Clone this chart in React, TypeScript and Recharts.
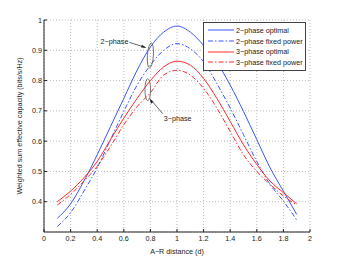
import React from "react";
import {
  CartesianGrid,
  Line,
  LineChart,
  ReferenceDot,
  XAxis,
  YAxis,
} from "recharts";

const distances = [0.1, 0.2, 0.3, 0.4, 0.5, 0.6, 0.7, 0.8, 0.9, 1.0, 1.1, 1.2, 1.3, 1.4, 1.5, 1.6, 1.7, 1.8, 1.9];

const twoPhaseOptimal = [0.345, 0.393, 0.468, 0.555, 0.648, 0.741, 0.834, 0.911, 0.96, 0.98, 0.96, 0.916, 0.86, 0.785, 0.698, 0.605, 0.512, 0.435, 0.358];
const twoPhaseFixed = [0.318, 0.364, 0.435, 0.512, 0.605, 0.698, 0.785, 0.851, 0.9, 0.922, 0.905, 0.862, 0.79, 0.709, 0.621, 0.533, 0.457, 0.402, 0.34];
const threePhaseOptimal = [0.4, 0.435, 0.479, 0.533, 0.605, 0.676, 0.741, 0.8, 0.845, 0.864, 0.851, 0.807, 0.741, 0.665, 0.588, 0.523, 0.468, 0.43, 0.393];
const threePhaseFixed = [0.389, 0.424, 0.468, 0.517, 0.583, 0.654, 0.714, 0.76, 0.818, 0.834, 0.818, 0.774, 0.709, 0.632, 0.555, 0.5, 0.457, 0.419, 0.389];

const xTicks = [0, 0.2, 0.4, 0.6, 0.8, 1, 1.2, 1.4, 1.6, 1.8, 2];
const yTicks = [0.4, 0.5, 0.6, 0.7, 0.8, 0.9, 1];

const data = distances.map((d, i) => ({
  d,
  p2opt: twoPhaseOptimal[i],
  p2fix: twoPhaseFixed[i],
  p3opt: threePhaseOptimal[i],
  p3fix: threePhaseFixed[i],
}));

const BLUE = "#3a55ff";
const RED = "#ff2a2a";
const DASHDOT = "5 2 1.5 2";
const font = "'Liberation Sans', Arial, sans-serif";

const series = [
  { key: "p2opt", name: "2\u2212phase optimal", color: BLUE, dash: undefined },
  { key: "p2fix", name: "2\u2212phase fixed power", color: BLUE, dash: DASHDOT },
  { key: "p3opt", name: "3\u2212phase optimal", color: RED, dash: undefined },
  { key: "p3fix", name: "3\u2212phase fixed power", color: RED, dash: DASHDOT },
];

// legend drawn by hand, sits over the upper right corner of the plot
function LegendBox() {
  return (
    <div
      style={{
        position: "absolute",
        left: 203,
        top: 22,
        width: 103,
        boxSizing: "border-box",
        border: "1px solid #444",
        background: "#fff",
        padding: "2px 2px 2px 4px",
        fontFamily: font,
        fontSize: 7.2,
        color: "#222",
      }}
    >
      {series.map((s) => (
        <div key={s.key} style={{ display: "flex", alignItems: "center", height: 10.7 }}>
          <svg width={26} height={6} style={{ marginRight: 2, flexShrink: 0 }}>
            <line x1={0} y1={3} x2={26} y2={3} stroke={s.color} strokeWidth={1} strokeDasharray={s.dash} />
          </svg>
          <span style={{ whiteSpace: "nowrap" }}>{s.name}</span>
        </div>
      ))}
    </div>
  );
}

const Callout2 = (props: any) => {
  const { cx, cy } = props;
  return (
    <g>
      <ellipse cx={cx} cy={cy} rx={3} ry={12.5} fill="none" stroke="#555" strokeWidth={0.8} transform={`rotate(4 ${cx} ${cy})`} />
      <line x1={cx - 21} y1={cy - 13} x2={cx - 5} y2={cy - 8} stroke="#222" strokeWidth={0.7} />
      <path d={`M${cx - 4} ${cy - 7.6} l-4.5 -3.2 l-0.9 2.8 z`} fill="#222" />
      <text x={cx - 22} y={cy - 11} textAnchor="end" fontFamily={font} fontSize={7.2} fill="#222">
        2{"\u2212"}phase
      </text>
    </g>
  );
};

const Callout3 = (props: any) => {
  const { cx, cy } = props;
  return (
    <g>
      <ellipse cx={cx} cy={cy} rx={2.8} ry={11} fill="none" stroke="#555" strokeWidth={0.8} />
      <line x1={cx + 15} y1={cy + 24} x2={cx + 3} y2={cy + 10} stroke="#222" strokeWidth={0.7} />
      <path d={`M${cx + 2} ${cy + 9} l1.3 5 l2.4 -2 z`} fill="#222" />
      <text x={cx + 16} y={cy + 31} textAnchor="start" fontFamily={font} fontSize={7.2} fill="#222">
        3{"\u2212"}phase
      </text>
    </g>
  );
};

export default function App() {
  return (
    <div style={{ position: "absolute", left: 0, top: 0, width: 342, height: 262, background: "#fff" }}>
      <LineChart width={342} height={262} data={data} margin={{ top: 20, right: 32, left: 0, bottom: 0 }}>
        <CartesianGrid stroke="#aaa" strokeDasharray="1 2" strokeWidth={0.8} />
        <XAxis
          dataKey="d"
          type="number"
          domain={[0, 2]}
          ticks={xTicks}
          height={30}
          stroke="#222"
          tickSize={-3}
          tickMargin={7}
          tick={{ fontSize: 7.2, fill: "#222", fontFamily: font }}
          label={{ value: "A\u2212R distance (d)", position: "insideBottom", offset: 8, fontSize: 7.2, fill: "#222", fontFamily: font }}
        />
        <XAxis xAxisId="top" orientation="top" type="number" domain={[0, 2]} ticks={xTicks} height={0} stroke="#222" tickSize={-3} tick={false} />
        <YAxis
          type="number"
          domain={[0.3, 1]}
          ticks={yTicks}
          width={44}
          stroke="#222"
          tickSize={-3}
          tickMargin={5}
          tick={{ fontSize: 7.2, fill: "#222", fontFamily: font }}
          label={{
            value: "Weighted sum effective capacity (bits/s/Hz)",
            angle: -90,
            position: "insideLeft",
            offset: 19,
            style: { textAnchor: "middle" },
            fontSize: 7.2,
            fill: "#222",
            fontFamily: font,
          }}
        />
        <YAxis yAxisId="right" orientation="right" type="number" domain={[0.3, 1]} ticks={yTicks} width={0} stroke="#222" tickSize={-3} tick={false} />
        {series.map((s) => (
          <Line
            key={s.key}
            type="monotone"
            dataKey={s.key}
            name={s.name}
            stroke={s.color}
            strokeWidth={1}
            strokeDasharray={s.dash}
            dot={false}
            isAnimationActive={false}
          />
        ))}
        <ReferenceDot x={0.8} y={0.883} shape={Callout2} />
        <ReferenceDot x={0.78} y={0.77} shape={Callout3} />
      </LineChart>
      <LegendBox />
    </div>
  );
}
